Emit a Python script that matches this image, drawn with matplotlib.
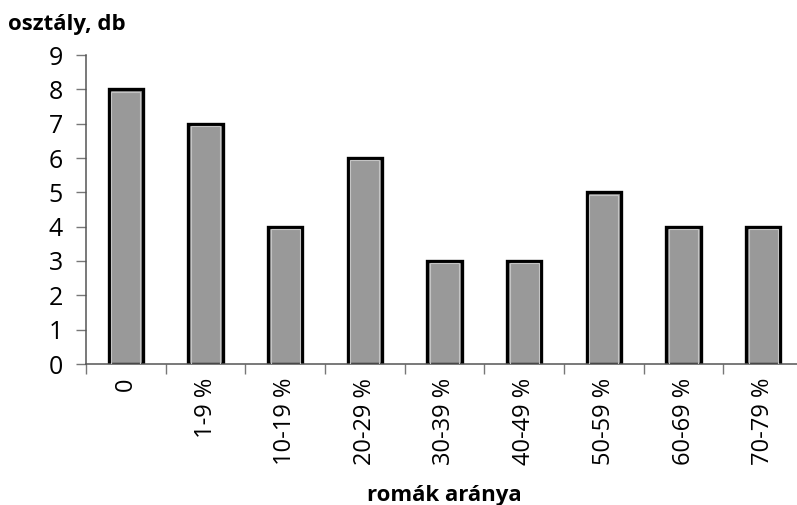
import numpy as np
from matplotlib import pyplot as plt

categories = ["0", "1-9 %", "10-19 %", "20-29 %", "30-39 %", "40-49 %",
              "50-59 %", "60-69 %", "70-79 %"]
counts = [8, 7, 4, 6, 3, 3, 5, 4, 4]

plt.rcParams["font.family"] = ["Open Sans", "DejaVu Sans"]

fig = plt.figure(figsize=(7.97, 5.05), dpi=100)
ax = fig.add_axes([86 / 797, 141 / 505, 717 / 797, 309 / 505])

x = np.arange(len(categories))
ax.bar(x, counts, width=0.43, color="#999999", edgecolor="black",
       linewidth=2.4, zorder=2)
# light inner rim of the bars
ax.bar(x, np.array(counts) - 0.07, width=0.36, color="none",
       edgecolor="#c4c4c4", linewidth=0.8, zorder=3)

ax.set_xlim(-0.5, len(categories) - 0.5)
ax.set_ylim(0, 9)
ax.set_yticks(range(0, 10))
ax.tick_params(axis="y", labelsize=18, length=7.5, width=1, color="#777777",
               pad=9)

ax.set_xticks(x)
ax.set_xticklabels(categories, rotation=90, fontsize=17)
ax.set_xticks(np.arange(len(categories) + 1) - 0.5, minor=True)
ax.tick_params(axis="x", which="major", length=0, pad=10)
ax.tick_params(axis="x", which="minor", length=7, width=1, color="#777777")

for side in ["top", "right"]:
    ax.spines[side].set_visible(False)
for side in ["left", "bottom"]:
    ax.spines[side].set_color("#555555")
    ax.spines[side].set_linewidth(1.1)

ax.set_xlabel("romák aránya", fontsize=16, fontweight="bold", labelpad=14)
fig.text(8 / 797, 1 - 30 / 505, "osztály, db", fontsize=16,
         fontweight="bold", va="baseline", ha="left")

fig.savefig("out.png", dpi=100)
